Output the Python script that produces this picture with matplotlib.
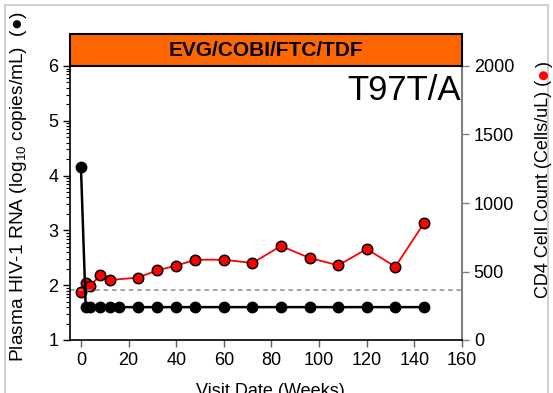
import matplotlib
matplotlib.use("Agg")
import matplotlib.pyplot as plt
import numpy as np
from matplotlib.patches import Rectangle

plt.rcParams['font.family'] = ['Liberation Sans', 'DejaVu Sans']
plt.rcParams['mathtext.fontset'] = 'custom'
plt.rcParams['mathtext.rm'] = 'Liberation Sans'
plt.rcParams['mathtext.it'] = 'Liberation Sans:italic'

# ---- data ----
vl_weeks = [0, 2, 4, 8, 12, 16, 24, 32, 40, 48, 60, 72, 84, 96, 108, 120, 132, 144]
vl_log = [4.15, 1.6, 1.6, 1.6, 1.6, 1.6, 1.6, 1.6, 1.6, 1.6, 1.6, 1.6, 1.6, 1.6, 1.6, 1.6, 1.6, 1.6]
cd4_weeks = [0, 2, 4, 8, 12, 24, 32, 40, 48, 60, 72, 84, 96, 108, 120, 132, 144]
cd4_counts = [350, 414, 394, 474, 438, 455, 509, 542, 586, 586, 562, 686, 599, 545, 664, 535, 852]
threshold_log = 1.91
x_ticks = [0, 20, 40, 60, 80, 100, 120, 140, 160]
left_ticks = [1, 2, 3, 4, 5, 6]
right_ticks = [0, 500, 1000, 1500, 2000]
regimen = "EVG/COBI/FTC/TDF"
mutation = "T97T/A"

W, H = 553, 393
fig = plt.figure(figsize=(W / 100, H / 100), dpi=100)
L, R, B, T = 70 / W, 462 / W, 1 - 340 / H, 1 - 66 / H
ax = fig.add_axes([L, B, R - L, T - B])
ax2 = ax.twinx()

ax.set_xlim(-4.6, 160)
ax.set_ylim(1, 6)
ax2.set_ylim(0, 2000)

# dashed threshold
ax.axhline(threshold_log, color='#8c8c8c', lw=1.1, ls=(0, (3, 2.5)), zorder=1)

# viral load
ax.plot(vl_weeks, vl_log, color='black', lw=1.8, marker='o', ms=7.5,
        mfc='black', mec='black', zorder=3)

# CD4
ax2.plot(cd4_weeks, cd4_counts, color='#ff0000', lw=1.3, marker='o', ms=7.5,
         mfc='#ff0000', mec='black', mew=1.1, zorder=4)

ax.set_zorder(ax2.get_zorder() + 1)
ax.patch.set_visible(False)

# spines
for a in (ax, ax2):
    a.spines['top'].set_visible(False)
ax.spines['right'].set_visible(False)
ax2.spines['left'].set_visible(False)
ax2.spines['bottom'].set_visible(False)
ax2.spines['right'].set_color('#808080')
ax2.spines['right'].set_linewidth(1.5)
ax.spines['left'].set_linewidth(1.2)
ax.spines['bottom'].set_linewidth(1.2)

ax.set_xticks(x_ticks)
ax.set_yticks(left_ticks)
ax.set_yticks([n + np.log10(k) for n in range(1, 6) for k in range(2, 10)], minor=True)
ax2.set_yticks(right_ticks)
ax.tick_params(axis='both', which='major', labelsize=13, length=5, width=1, direction='out')
ax.tick_params(axis='y', which='minor', length=3, width=0.8)
ax.tick_params(axis='x', colors='#606060', labelcolor='black')
ax2.tick_params(axis='y', labelsize=13, length=5, width=1, colors='#808080', labelcolor='black')

# header box
hb = 1 - 34 / H
fig.add_artist(Rectangle((L, T), R - L, hb - T, transform=fig.transFigure,
                         facecolor='#ff6600', edgecolor='black', lw=1.5, zorder=5))
fig.text((L + R) / 2, 1 - 50.5 / H, regimen, ha='center', va='center',
         fontsize=15, fontweight='bold', zorder=6)

ax.text(0.997, 0.97, mutation, transform=ax.transAxes, ha='right', va='top', fontsize=25)

# labels
fig.text(19 / W, 1 - 186 / H, "Plasma HIV-1 RNA (log$_{10}$ copies/mL)  (\u25CF)",
         rotation=90, ha='center', va='center', fontsize=13.8)

# right label assembled in parts so the dot can be red
renderer = fig.canvas.get_renderer()
xb = 548.5 / W
ypix = 298.0
parts = [("CD4 Cell Count (Cells/uL) (", 'black', 13), ("\u25CF", '#ff0000', 15), (")", 'black', 13)]
for s, c, fs in parts:
    t = fig.text(xb, 1 - ypix / H, s, rotation=90, rotation_mode='anchor',
                 ha='left', va='baseline', fontsize=fs, color=c)
    ext = t.get_window_extent(renderer)
    ypix -= ext.height

fig.text(270 / W, 1 - 392 / H, "Visit Date (Weeks)", ha='center', va='center', fontsize=13)

# outer frame (cropped panel border)
fig.add_artist(Rectangle((5 / W, -0.1), (548 - 5) / W, 1.1 - 5 / H, transform=fig.transFigure,
                         facecolor='none', edgecolor='#c8c8c8', lw=1.2, zorder=0))

fig.savefig("out.png", dpi=100)
